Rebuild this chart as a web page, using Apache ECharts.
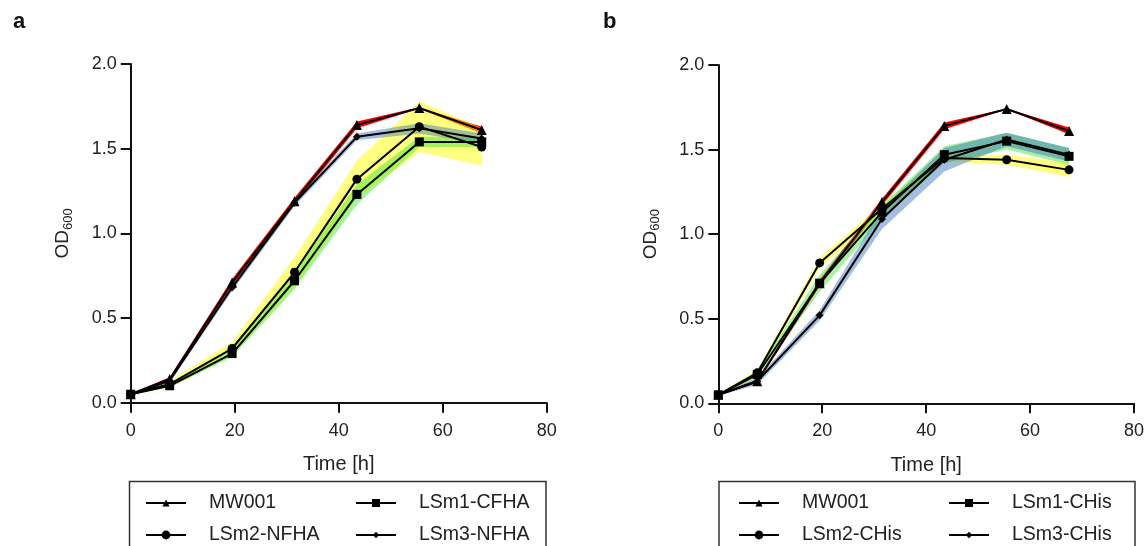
<!DOCTYPE html>
<html><head><meta charset="utf-8">
<script src="https://cdn.jsdelivr.net/npm/echarts@6/dist/echarts.min.js"></script>
<style>html,body{margin:0;padding:0;background:#fff}#c{width:1147px;height:546px}</style>
</head><body><div id="c"></div>
<script>
// ---- data ----
const time = [0, 7.5, 19.5, 31.5, 43.5, 55.5, 67.5];
const namesA = ['MW001', 'LSm1-CFHA', 'LSm2-NFHA', 'LSm3-NFHA'];
const namesB = ['MW001', 'LSm1-CHis', 'LSm2-CHis', 'LSm3-CHis'];

// panel a (mean OD600)
const aMW001 = [0.05, 0.14, 0.71, 1.19, 1.64, 1.74, 1.61];
const aLSm1  = [0.05, 0.10, 0.29, 0.72, 1.23, 1.54, 1.54];
const aLSm2  = [0.05, 0.11, 0.32, 0.77, 1.32, 1.63, 1.51];
const aLSm3  = [0.05, 0.13, 0.68, 1.18, 1.57, 1.62, 1.56];
// panel a (SD)
const aMW001Sd = [0.005, 0.01, 0.02, 0.02, 0.02, 0.004, 0.02];
const aLSm1Sd  = [0.005, 0.01, 0.02, 0.05, 0.06, 0.03, 0.03];
const aLSm2Sd  = [0.005, 0.02, 0.04, 0.09, 0.11, 0.15, 0.11];
const aLSm3Sd  = [0.005, 0.01, 0.02, 0.02, 0.02, 0.03, 0.03];

// panel b (mean OD600)
const bMW001 = [0.05, 0.13, 0.71, 1.19, 1.64, 1.74, 1.61];
const bLSm1  = [0.05, 0.17, 0.71, 1.13, 1.47, 1.55, 1.46];
const bLSm2  = [0.05, 0.18, 0.83, 1.15, 1.45, 1.44, 1.38];
const bLSm3  = [0.05, 0.13, 0.52, 1.09, 1.44, 1.56, 1.47];
// panel b (SD)
const bMW001Sd = [0.005, 0.01, 0.02, 0.02, 0.02, 0.003, 0.02];
const bLSm1Sd  = [0.005, 0.02, 0.05, 0.04, 0.05, 0.05, 0.05];
const bLSm2Sd  = [0.005, 0.02, 0.03, 0.03, 0.02, 0.03, 0.04];
const bLSm3Sd  = [0.005, 0.02, 0.03, 0.06, 0.07, 0.04, 0.04];

// ---- styling ----
const FONT = 'Liberation Sans, Arial, sans-serif';
const symbols = ['triangle', 'rect', 'circle', 'diamond'];
const symbolSizes = [10, 9, 9, 8];
const bandColors = ['rgba(255,0,0,1)', 'rgba(40,225,40,0.42)', 'rgba(255,255,0,0.5)', 'rgba(40,100,180,0.42)'];
// draw order of bands: red, yellow, green, blue
const bandOrder = [0, 2, 1, 3];

function bandSeries(g, mean, sd, color, z) {
  const rows = time.map((t, i) => [t, mean[i] - sd[i], mean[i] + sd[i]]);
  return {
    type: 'custom', xAxisIndex: g, yAxisIndex: g, silent: true, z: z, clip: false,
    encode: { x: 0, y: [1, 2] },
    data: rows,
    renderItem: function (params, api) {
      if (params.dataIndex !== 0) return null;
      const pts = [];
      for (let i = 0; i < rows.length; i++) pts.push(api.coord([rows[i][0], rows[i][2]]));
      for (let i = rows.length - 1; i >= 0; i--) pts.push(api.coord([rows[i][0], rows[i][1]]));
      return { type: 'polygon', shape: { points: pts }, style: { fill: color, stroke: null } };
    }
  };
}
function mainSeries(name, g, mean, k) {
  return { type: 'line', name: name, xAxisIndex: g, yAxisIndex: g, z: 10,
    symbol: symbols[k], symbolSize: symbolSizes[k],
    lineStyle: { color: '#000', width: 2 }, itemStyle: { color: '#000' },
    data: time.map((t, i) => [t, mean[i]]) };
}

const panels = [
  { names: namesA, means: [aMW001, aLSm1, aLSm2, aLSm3], sds: [aMW001Sd, aLSm1Sd, aLSm2Sd, aLSm3Sd] },
  { names: namesB, means: [bMW001, bLSm1, bLSm2, bLSm3], sds: [bMW001Sd, bLSm1Sd, bLSm2Sd, bLSm3Sd] }
];

const series = [];
panels.forEach((p, g) => {
  bandOrder.forEach((k, j) => {
    series.push(bandSeries(g, p.means[k], p.sds[k], bandColors[k], 1 + j));
  });
  p.means.forEach((m, k) => series.push(mainSeries(p.names[k], g, m, k)));
});

function xAxis(g) {
  return { type: 'value', gridIndex: g, min: 0, max: 80, interval: 20,
    axisLine: { show: true, onZero: false, lineStyle: { color: '#111', width: 2 } },
    axisTick: { show: true, length: 10, lineStyle: { color: '#111', width: 2 } },
    axisLabel: { fontSize: 18, color: '#222', margin: 19, fontFamily: FONT },
    splitLine: { show: false },
    name: 'Time [h]', nameLocation: 'middle', nameGap: 52,
    nameTextStyle: { fontSize: 20, color: '#222', fontFamily: FONT } };
}
function yAxis(g) {
  return { type: 'value', gridIndex: g, min: 0, max: 2, interval: 0.5,
    axisLine: { show: true, onZero: false, lineStyle: { color: '#111', width: 2 } },
    axisTick: { show: true, length: 10, lineStyle: { color: '#111', width: 2 } },
    axisLabel: { fontSize: 18, color: '#222', margin: 14, fontFamily: FONT, formatter: v => v.toFixed(1) },
    splitLine: { show: false },
    name: '{a|OD}{b|600}', nameLocation: 'middle', nameGap: 56,
    nameTextStyle: { color: '#222', fontFamily: FONT,
      rich: { a: { fontSize: 19, fontFamily: FONT, color: '#222' },
              b: { fontSize: 13, fontFamily: FONT, color: '#222', padding: [10, 0, 0, 0] } } } };
}

const legendPos = [
  [[145, 493], [355, 493], [145, 525], [355, 525]],
  [[738, 493], [948, 493], [738, 525], [948, 525]]
];
const legendIcon = [9, 10, 11, 8];
const legends = [];
panels.forEach((p, g) => {
  [0, 1, 2, 3].forEach((k, j) => {
    legends.push({ data: [p.names[k]], left: legendPos[g][j][0], top: legendPos[g][j][1],
      padding: 0, itemWidth: 40, itemHeight: legendIcon[k], selectedMode: false,
      textStyle: { fontSize: 19.5, color: '#222', fontFamily: FONT, padding: [0, 0, 0, 18] } });
  });
});

const chart = echarts.init(document.getElementById('c'), null, { renderer: 'canvas' });
chart.setOption({
  backgroundColor: '#fff',
  animation: false,
  title: [
    { text: 'a', left: 8, top: 6, textStyle: { fontSize: 22, fontWeight: 'bold', color: '#111', fontFamily: FONT } },
    { text: 'b', left: 598, top: 6, textStyle: { fontSize: 22, fontWeight: 'bold', color: '#111', fontFamily: FONT } }
  ],
  grid: [
    { left: 130.7, top: 64, width: 416, height: 338.7 },
    { left: 718.3, top: 65, width: 416.4, height: 338.3 }
  ],
  xAxis: [xAxis(0), xAxis(1)],
  yAxis: [yAxis(0), yAxis(1)],
  legend: legends,
  graphic: [
    { type: 'rect', shape: { x: 129.5, y: 481.5, width: 416.5, height: 80 }, style: { fill: 'none', stroke: '#333', lineWidth: 1.5 } },
    { type: 'rect', shape: { x: 719, y: 481.5, width: 416, height: 80 }, style: { fill: 'none', stroke: '#333', lineWidth: 1.5 } }
  ],
  series: series
});
</script>
</body></html>
